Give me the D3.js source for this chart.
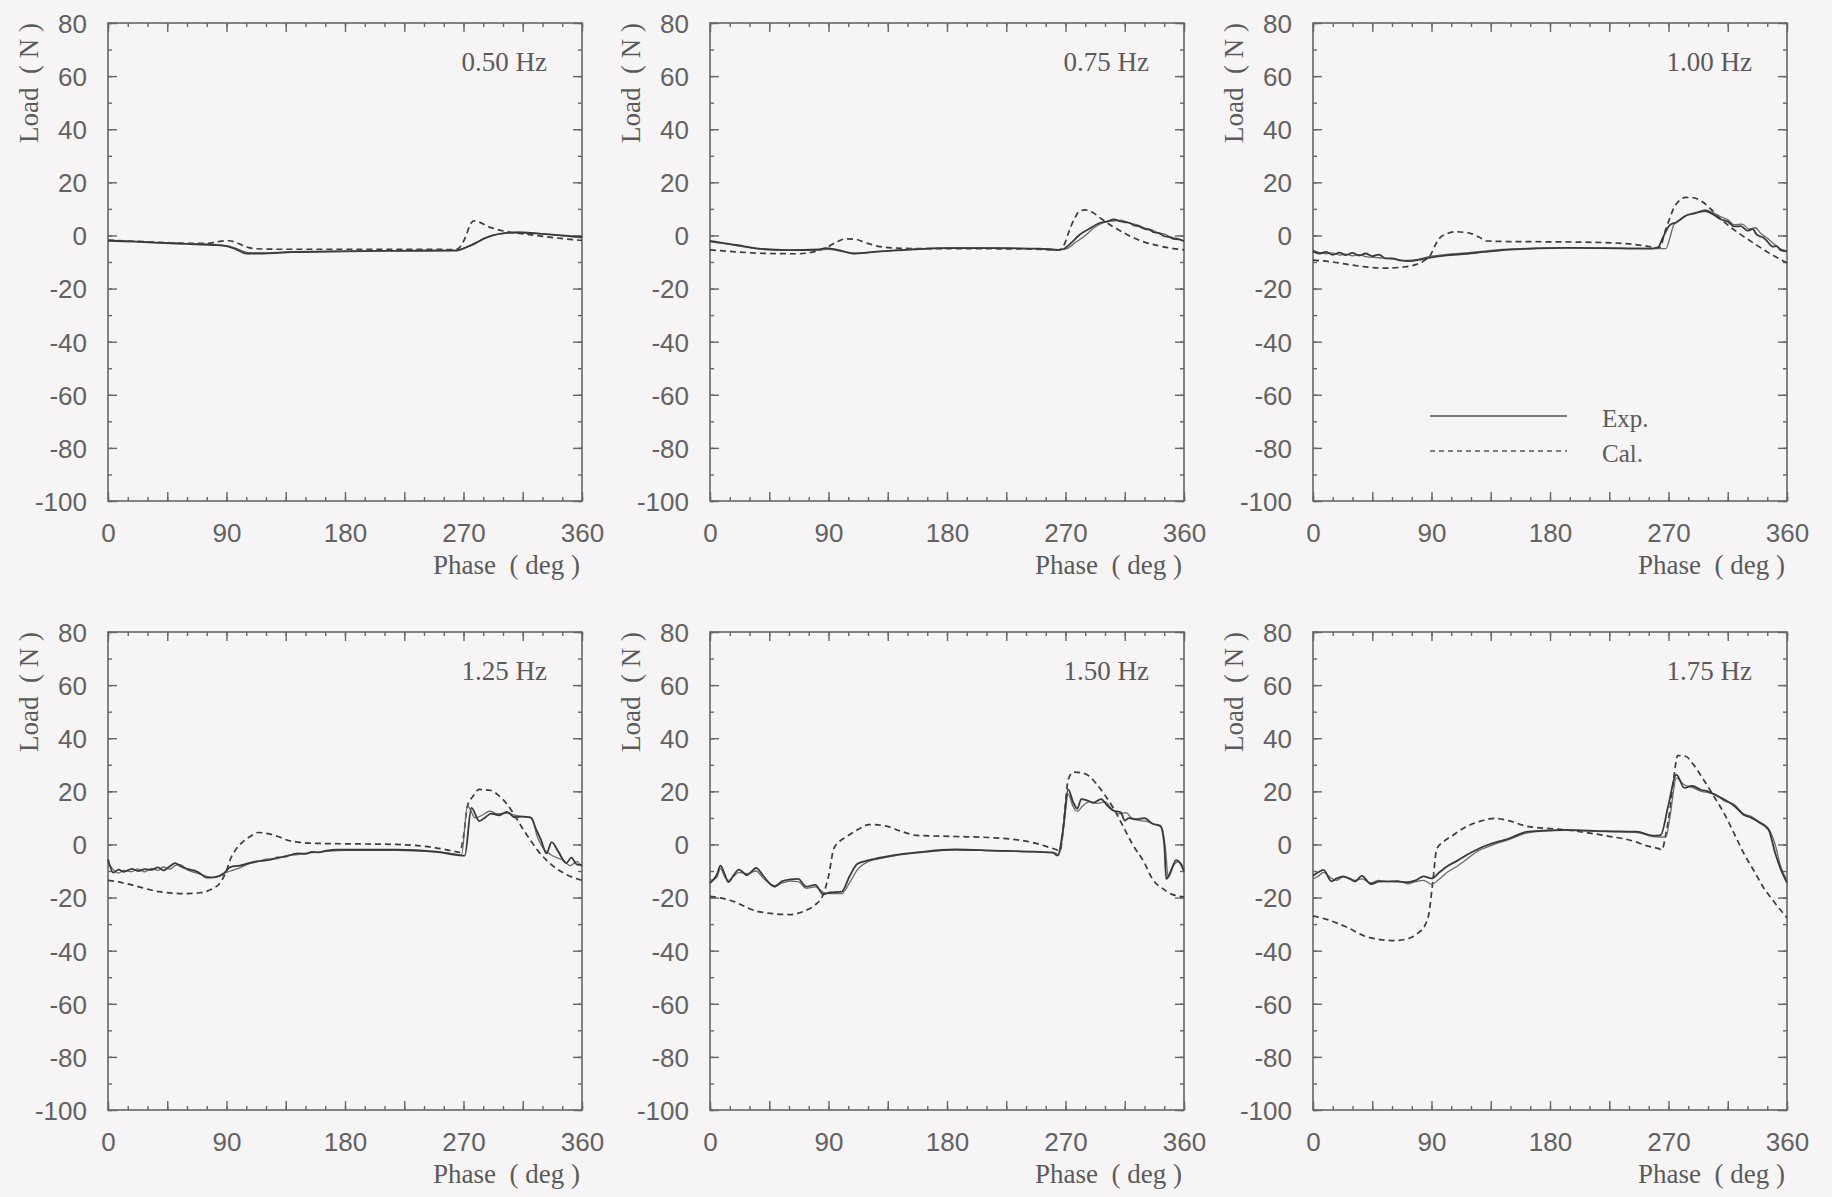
<!DOCTYPE html>
<html>
<head>
<meta charset="utf-8">
<script src="https://cdn.jsdelivr.net/npm/d3@7"></script>
<style>
html, body { margin: 0; padding: 0; background: #f6f4f4; }
svg { display: block; }
.tick-label { font-family: "Liberation Sans", Arial, sans-serif; font-size: 26px; fill: #626262; }
.serif { font-family: "Liberation Serif", "Times New Roman", serif; fill: #5a5a5a; }
</style>
</head>
<body>
<svg id="chart" width="1832" height="1197"></svg>
<script>
// axis ticks
const phaseTicks = [0, 90, 180, 270, 360];
const loadTicks = [80, 60, 40, 20, 0, -20, -40, -60, -80, -100];
const freqLabels = ["0.50 Hz", "0.75 Hz", "1.00 Hz", "1.25 Hz", "1.50 Hz", "1.75 Hz"];

// [phase (deg), load (N)]
const exp050a = [[0,-2],[20,-2.3],[40,-2.8],[60,-3.2],[80,-3.6],[90,-4],[97,-5.2],[105,-6.8],[115,-6.8],[140,-6.3],[180,-6],[220,-5.8],[264,-5.7],[272,-4.5],[279,-3],[285,-1.3],[292,0],[300,0.8],[310,1.1],[325,0.8],[340,0.2],[360,-0.6]];
const exp050b = [[0,-1.8],[20,-2.2],[40,-2.7],[60,-3.1],[80,-3.4],[90,-3.8],[98,-5],[106,-6.5],[115,-6.6],[140,-6.1],[180,-5.9],[220,-5.7],[265,-5.6],[273,-4.2],[280,-2.5],[287,-1],[294,0.2],[302,0.9],[312,1.2],[325,0.9],[340,0.1],[360,-0.9]];
const cal050 = [[0,-1.8],[20,-2.2],[40,-2.6],[60,-3],[75,-3],[85,-2.2],[92,-2],[98,-2.8],[105,-4.3],[112,-5],[130,-5.2],[180,-5.2],[230,-5.2],[264,-5.3],[268,-4],[272,0],[275,4],[278,5.5],[282,5],[288,3.5],[296,2.2],[306,1.2],[320,0.3],[340,-0.9],[360,-1.9]];

const exp075a = [[0,-2],[7,-2.6],[20,-3.6],[37,-5],[60,-5.5],[82,-5.3],[88,-4.8],[100,-5.8],[109,-6.8],[127,-6.1],[150,-5.4],[180,-4.8],[217,-4.8],[250,-5],[265,-5.4],[269,-5],[275,-2.5],[280,0],[288,2.5],[295,4.5],[301,5.2],[307,6],[311,5.4],[315,5],[319,4.6],[322,3.8],[326,3.4],[330,2.5],[334,2.1],[337,1.2],[341,0.9],[345,-0.3],[349,-0.6],[352,-1.3],[356,-1.5],[360,-2.2]];
const exp075b = [[0,-2.4],[10,-3],[25,-4.2],[40,-5.2],[60,-5.6],[82,-5.5],[90,-5.2],[100,-6],[110,-6.8],[130,-6],[160,-5],[190,-4.7],[220,-4.8],[250,-5],[266,-5.4],[271,-5],[278,-2.5],[285,0],[292,3],[300,5],[307,5.5],[312,5.8],[316,5.1],[320,4.5],[325,3.9],[330,2.8],[335,2.2],[340,1],[345,0.5],[350,-0.6],[355,-1.1],[360,-2]];
const cal075 = [[0,-5.4],[20,-6.2],[45,-6.8],[67,-6.9],[80,-6],[88,-4.7],[96,-2.5],[103,-1.3],[110,-1.4],[118,-2.7],[127,-4],[140,-4.7],[160,-5],[200,-5],[240,-5.1],[265,-5.4],[269,-3.5],[273,2],[277,6.5],[281,9.3],[285,9.6],[290,8.8],[298,6],[307,3],[315,0.8],[322,-1],[330,-2.5],[340,-3.8],[350,-4.8],[360,-5.4]];

const exp100a = [[0,-6],[5,-6.8],[10,-6.2],[15,-7.3],[20,-6.5],[25,-7.4],[30,-6.6],[35,-7.6],[40,-6.8],[45,-7.8],[50,-7.2],[55,-8.6],[60,-8.6],[66,-9.4],[72,-9.7],[80,-9.2],[90,-8.3],[100,-7.6],[117,-6.9],[130,-6.2],[147,-5.4],[170,-4.9],[192,-4.7],[220,-4.8],[253,-5],[260,-4.8],[262,-4.5],[266,-0.5],[271,3.9],[276,5],[283,7.4],[290,8.3],[298,9.2],[303,8.2],[310,6],[315,5.2],[320,3.4],[325,3.5],[330,1.8],[334,2.4],[337,0.3],[342,-0.8],[345,-2.2],[349,-4.2],[352,-4],[355,-5.5],[360,-6]];
const exp100b = [[0,-5.5],[5,-6.5],[10,-6.9],[15,-6.6],[20,-7.4],[25,-7],[30,-7.7],[35,-7.2],[40,-8],[50,-8.4],[60,-8.8],[70,-9.4],[80,-9],[90,-7.8],[100,-7.2],[117,-6.6],[130,-5.9],[147,-5.2],[170,-4.8],[192,-4.6],[220,-4.7],[253,-4.9],[268,-5],[271,-1],[274,4],[278,5.5],[285,7.8],[292,8.8],[298,9.6],[304,8.5],[310,7],[315,6],[320,4],[326,4.3],[331,2.5],[336,2.9],[340,0.8],[345,-1],[350,-3.2],[355,-5],[360,-5.8]];
const cal100 = [[0,-9.3],[15,-10],[30,-11.2],[54,-12.3],[70,-11.8],[78,-11],[85,-9.3],[89,-7.6],[93,-3.5],[96,-1.1],[102,0.7],[108,1.4],[114,1.2],[120,0.7],[126,-0.6],[132,-2.1],[150,-2.3],[180,-2.4],[222,-2.7],[240,-3.2],[253,-4],[263,-4.7],[268,2.4],[271,6.5],[274,10.3],[278,13],[283,14.3],[289,14.2],[295,12.9],[302,10],[310,6],[318,2.8],[325,0.3],[335,-3],[343,-5.6],[352,-8.2],[360,-10.4]];

const exp125a = [[0,-5.6],[4,-10.6],[8,-9.5],[12,-10.3],[18,-9.2],[23,-10],[28,-9.3],[33,-9.6],[38,-8.6],[42,-9.8],[47,-8.2],[51,-7],[55,-8.2],[60,-9.2],[65,-9.8],[69,-10.6],[75,-12.5],[81,-12.3],[87,-11.4],[93,-8.5],[100,-8],[107,-7],[114,-6.3],[120,-6],[125,-5.5],[129,-4.9],[135,-4.6],[140,-3.8],[144,-3.4],[150,-3.5],[155,-2.8],[160,-3],[166,-2.3],[174,-2],[190,-2],[219,-2],[249,-2.7],[264,-3.9],[271,-4.2],[276,13.8],[282,8.8],[286,10],[291,11.6],[297,11],[303,12.3],[309,10.2],[315,10.5],[321,10.2],[325,5.9],[329,1.5],[333,-3.4],[337,0.9],[342,-2.7],[348,-7],[352,-5],[356,-7.5],[360,-7.8]];
const exp125b = [[0,-6.5],[4,-9.5],[8,-10.8],[12,-9.8],[18,-10.2],[23,-9.2],[28,-10.3],[33,-9],[38,-9.8],[42,-8.5],[47,-9.3],[51,-8],[55,-7.6],[60,-9.5],[69,-11],[75,-12],[81,-12.5],[87,-11],[93,-10],[100,-8.8],[107,-7.3],[114,-6.5],[120,-5.5],[129,-5.3],[135,-4.2],[144,-3.8],[155,-3.1],[166,-2.6],[180,-2.2],[219,-2.2],[249,-2.9],[266,-3.8],[268.5,-4],[273,14.5],[279,10],[284,11],[290,12.5],[296,11.5],[303,11.8],[309,11],[316,10.4],[322,9.8],[326,3],[330,-1],[336,-3.8],[341,-5],[346,-6],[351,-8],[356,-6.5],[360,-8.5]];
const cal125 = [[0,-13.5],[9,-14.2],[20,-15.5],[39,-17.8],[60,-18.5],[70,-18.2],[78,-17],[85.5,-14.2],[90,-9.9],[93,-5.5],[96,-2.7],[102,0.8],[108,3],[114,4.5],[120,4.2],[129,3],[137,1.5],[144,0.9],[159,0.4],[190,0.2],[219,0],[249,-1.3],[264,-2.7],[267,-3],[270,3],[273,14.5],[277,18],[282,20.7],[291,20.3],[297,18.3],[303,15.2],[309,10.8],[315,5.9],[321,1.5],[327,-2.7],[333,-5.9],[339,-8.5],[348,-11.3],[360,-13.5]];

const exp150a = [[0,-14.5],[5,-11.6],[8,-8],[11,-11],[14,-14.2],[18,-11.5],[22,-9.5],[25,-10.5],[28,-11.6],[32,-10],[35,-8.8],[40,-11.5],[44,-14],[49,-15.9],[55,-13.8],[61,-13.2],[67,-13],[73,-15.9],[80,-15.2],[86,-18.8],[91,-18.1],[100,-17.8],[106,-12],[112,-7.3],[120,-6],[127,-5.2],[140,-4],[157,-3],[186,-1.9],[216,-2.3],[246,-2.7],[260,-3],[264,-4.2],[268,5],[272,20.7],[276,15.7],[279,13.5],[282,17.1],[287,16.5],[291,15.7],[297,17.1],[302,14.5],[306,12.8],[312,12.1],[315,9],[318,9.9],[324,9.5],[330,9.9],[336,7.8],[342,7],[345,0],[346.5,-13],[350,-10],[354,-5.9],[357,-7],[360,-10.2]];
const exp150b = [[0,-13.5],[5,-12.5],[8,-9],[11,-12],[14,-13.5],[18,-12],[22,-10.5],[28,-11],[35,-10],[40,-12.5],[49,-15.5],[55,-14.5],[61,-13.8],[67,-14],[73,-16.5],[80,-16],[86,-18],[91,-18.5],[100,-18.5],[106,-14.5],[112,-9.5],[120,-6.5],[127,-5.5],[140,-4.3],[157,-3.2],[186,-2],[216,-2.4],[246,-2.8],[262,-3.2],[265,-4],[269,8],[272,19],[276,14],[279,12.5],[283,14.5],[288,16],[294,15.5],[300,16],[305,13.5],[311,11.5],[316,12],[321,9.5],[327,9],[333,8.5],[338,7.5],[343,6.5],[346,-2],[348,-12.5],[352,-8],[356,-6.5],[360,-9]];
const cal150 = [[0,-19.5],[15,-21],[37,-25.3],[61,-26.4],[72,-25],[79,-23.1],[86,-18.8],[90,-12],[94,-1.6],[98,1],[103,2.7],[112,5.5],[121,7.5],[133,7],[145,5],[157,3.4],[186,3],[216,2.5],[246,0.6],[261,-1.6],[266,-2.3],[269,10],[272,24.3],[276,27.2],[282,27],[288,25.7],[294,22.5],[300,18.5],[306,14],[312,8.5],[321,0],[330,-7],[336,-13],[345,-17],[351,-18.8],[360,-19.7]];

const exp175a = [[0,-11.8],[4,-10.5],[8,-9.6],[14,-13.9],[18,-12.8],[23,-12],[28,-13],[32,-13.9],[37,-11.8],[44,-14.9],[50,-14],[56,-13.9],[64,-14],[72,-14.2],[78,-13.5],[84,-12],[90,-12.8],[96,-10.5],[102,-8.2],[110,-6],[117,-3.9],[125,-1.8],[132,-0.3],[140,1],[147,1.9],[155,3.5],[162,4.7],[175,5.2],[192,5.5],[222,5],[246,4.8],[258,3.3],[264,3.5],[270,15],[276,26.3],[282,21.3],[288,22],[295,20.5],[300,20],[306,18.5],[312,17],[320,14.5],[327,11.2],[333,10],[339,8.3],[346,5.5],[351,-3.2],[355,-9],[360,-14.4]];
const exp175b = [[0,-13],[4,-12],[8,-10.5],[14,-12.8],[18,-13.5],[23,-12.2],[28,-12.8],[32,-13.5],[37,-13],[44,-14.5],[50,-13.5],[56,-14],[64,-13.6],[72,-14.8],[78,-14],[84,-13.5],[90,-15],[96,-13],[102,-10.5],[110,-8],[117,-5.5],[125,-2.5],[132,-1],[140,0.5],[147,1.5],[155,3],[162,4.3],[175,5],[192,5.3],[222,4.8],[246,4.5],[258,3],[268,2.8],[271,10],[276,25],[282,22.5],[288,21.5],[295,20],[300,19.5],[306,18.8],[312,16.5],[320,15],[327,11.5],[333,10.5],[339,8.5],[346,6],[351,0],[355,-8],[360,-13.5]];
const cal175 = [[0,-26.9],[11,-28.3],[25,-31],[41,-34.8],[62,-36.2],[72,-35.5],[80,-33.3],[85,-30.5],[88,-26.1],[91,-14],[94,-1.7],[99,1],[105,3],[115,6.3],[126,8.6],[138,9.8],[150,8.8],[162,6.9],[192,5.5],[222,3.3],[245,1],[252,-0.3],[262,-1.5],[265,-2],[268,4],[271,12.6],[274,25],[277,33.5],[283,33.2],[289,30],[297,24.1],[304,18.5],[312,11.9],[320,4],[327,-3.2],[335,-10],[342,-16.1],[350,-21.5],[360,-27.6]];

const panels = [
  { label: freqLabels[0], exp: [exp050a, exp050b], cal: cal050 },
  { label: freqLabels[1], exp: [exp075a, exp075b], cal: cal075 },
  { label: freqLabels[2], exp: [exp100a, exp100b], cal: cal100, legend: true },
  { label: freqLabels[3], exp: [exp125a, exp125b], cal: cal125 },
  { label: freqLabels[4], exp: [exp150a, exp150b], cal: cal150 },
  { label: freqLabels[5], exp: [exp175a, exp175b], cal: cal175 }
];

const colLeft = [108, 710, 1313];
const rowTop = [23, 632];
const plotW = 474, plotH = 478;
const ink = "#666";
const plain = d => String(d);   // plain hyphen for negatives, like the original

const svg = d3.select("#chart");

panels.forEach((p, i) => {
  const g = svg.append("g")
    .attr("transform", `translate(${colLeft[i % 3]},${rowTop[Math.floor(i / 3)]})`);

  const x = d3.scaleLinear().domain([0, 360]).range([0, plotW]);
  const y = d3.scaleLinear().domain([-100, 80]).range([plotH, 0]);

  // inward ticks on all four sides
  const tickSets = [
    { axis: d3.axisBottom(x), pos: [0, plotH], minor: d3.range(0, 361, 15), major: d3.range(0, 361, 45) },
    { axis: d3.axisTop(x), pos: [0, 0], minor: d3.range(0, 361, 15), major: d3.range(0, 361, 45) },
    { axis: d3.axisLeft(y), pos: [0, 0], minor: d3.range(-100, 81, 10), major: loadTicks },
    { axis: d3.axisRight(y), pos: [plotW, 0], minor: d3.range(-100, 81, 10), major: loadTicks }
  ];
  tickSets.forEach(t => {
    [[t.minor, 4], [t.major, 9]].forEach(([vals, len]) => {
      const ag = g.append("g")
        .attr("transform", `translate(${t.pos[0]},${t.pos[1]})`)
        .call(t.axis.tickValues(vals).tickSize(-len).tickFormat(""));
      ag.select(".domain").remove();
      ag.selectAll("line").attr("stroke", ink).attr("stroke-width", 1.4);
    });
  });

  // tick labels
  const xl = g.append("g")
    .attr("transform", `translate(0,${plotH})`)
    .call(d3.axisBottom(x).tickValues(phaseTicks).tickSize(0).tickFormat(plain));
  xl.select(".domain").remove();
  xl.selectAll("text").attr("class", "tick-label").attr("y", 41).attr("dy", null)
    .attr("fill", null);

  const yl = g.append("g")
    .call(d3.axisLeft(y).tickValues(loadTicks).tickSize(0).tickFormat(plain));
  yl.select(".domain").remove();
  yl.selectAll("text").attr("class", "tick-label").attr("x", -21).attr("dy", "0.36em")
    .attr("fill", null);
  [xl, yl].forEach(a => a.attr("font-size", null).attr("font-family", null));

  // frame
  g.append("rect")
    .attr("width", plotW).attr("height", plotH)
    .attr("fill", "none").attr("stroke", ink).attr("stroke-width", 1.6);

  // curves
  const line = d3.line()
    .x(d => x(d[0])).y(d => y(d[1]))
    .curve(d3.curveMonotoneX);

  g.append("path").datum(p.cal)
    .attr("d", line).attr("fill", "none")
    .attr("stroke", "#3c3c3c").attr("stroke-width", 1.7)
    .attr("stroke-dasharray", "6,4");
  g.append("path").datum(p.exp[1])
    .attr("d", line).attr("fill", "none")
    .attr("stroke", "#6a6a6a").attr("stroke-width", 1.3);
  g.append("path").datum(p.exp[0])
    .attr("d", line).attr("fill", "none")
    .attr("stroke", "#3a3a3a").attr("stroke-width", 1.8);

  // labels
  g.append("text").attr("class", "serif")
    .attr("x", plotW - 35).attr("y", 48)
    .attr("text-anchor", "end").attr("font-size", 27)
    .text(p.label);

  g.append("text").attr("class", "serif")
    .attr("x", plotW - 2).attr("y", plotH + 73)
    .attr("text-anchor", "end").attr("font-size", 27)
    .attr("xml:space", "preserve")
    .text("Phase  ( deg )");

  g.append("text").attr("class", "serif")
    .attr("transform", `translate(-70,0) rotate(-90)`)
    .attr("text-anchor", "end").attr("font-size", 27)
    .attr("xml:space", "preserve")
    .text("Load  ( N )");

  if (p.legend) {
    const lg = g.append("g").attr("transform", "translate(117,393)");
    lg.append("line").attr("x1", 0).attr("x2", 137).attr("y1", 0).attr("y2", 0)
      .attr("stroke", "#555").attr("stroke-width", 1.5);
    lg.append("line").attr("x1", 0).attr("x2", 137).attr("y1", 35).attr("y2", 35)
      .attr("stroke", "#555").attr("stroke-width", 1.5).attr("stroke-dasharray", "5,4");
    lg.append("text").attr("class", "serif").attr("x", 172).attr("y", 11)
      .attr("font-size", 25).text("Exp.");
    lg.append("text").attr("class", "serif").attr("x", 172).attr("y", 46)
      .attr("font-size", 25).text("Cal.");
  }
});
</script>
</body>
</html>
